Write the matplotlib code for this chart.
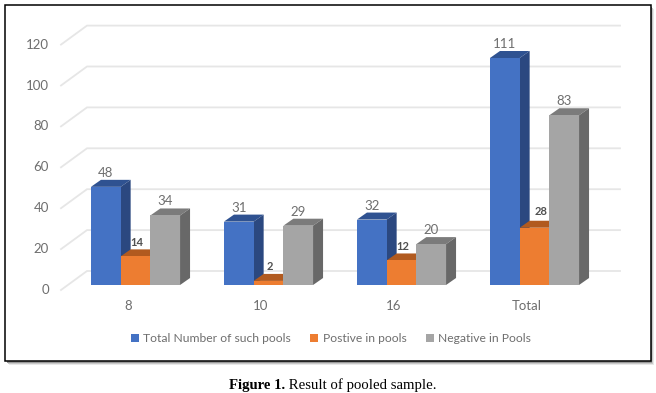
import numpy as np
import matplotlib
matplotlib.use("Agg")
import matplotlib.pyplot as plt
from matplotlib.patches import Polygon, Rectangle

# Data
categories = ["8", "10", "16", "Total"]
total_pools = [48, 31, 32, 111]
positive_pools = [14, 2, 12, 28]
negative_pools = [34, 29, 20, 83]
y_ticks = [0, 20, 40, 60, 80, 100, 120]

series_names = ["Total Number of such pools", "Postive in pools", "Negative in Pools"]
front_colors = ["#4472C4", "#ED7D31", "#A5A5A5"]
top_colors = ["#2F5291", "#B15A1F", "#7B7B7B"]
side_colors = ["#2B4880", "#A8551D", "#686868"]

W, H = 656, 393
px_x = 133.0    # pixels per category
px_y = 2.045    # pixels per unit of value
x0_px, y0_px = 135.5, 285.0

text_gray = "#6E6E6E"
num_font = ["Lato", "DejaVu Sans"]

fig = plt.figure(figsize=(W / 100, H / 100), dpi=100)
ax = fig.add_axes([0, 0, 1, 1])
ax.set_zorder(5)
ax.set_xlim(-x0_px / px_x, (W - x0_px) / px_x)
ax.set_ylim(-(H - y0_px) / px_y, y0_px / px_y)
ax.axis("off")


def ux(p):
    return p / px_x


def uy(p):
    return p / px_y


# Frame and its shadow
for i, c in enumerate(["#E8E8E8", "#C8C8C8", "#9A9A9A"]):
    off = 3 - i
    fig.add_artist(Rectangle((6 + off, H - 362 - off), 645, 356, transform=None,
                             facecolor=c, edgecolor="none", zorder=0))
fig.add_artist(Rectangle((4.5, H - 361), 646, 356, transform=None,
                         facecolor="white", edgecolor="black", linewidth=1.1, zorder=0.5))

# Gridlines: floor/wall corner then back wall
xs = np.arange(len(categories))
left_end = xs[0] + ux(61 - x0_px)
wall_start = xs[0] + ux(87 - x0_px)
wall_end = xs[0] + ux(620 - x0_px)
for v in y_ticks:
    ax.plot([left_end, wall_start, wall_end],
            [v - uy(5), v + uy(14), v + uy(14)],
            color="#E6E6E6", lw=1.3, zorder=1, solid_joinstyle="miter")
    ax.text(left_end - ux(12), v - uy(5), str(v), ha="right", va="center",
            fontsize=9.5, color=text_gray, family=num_font)

# Bars
width = 29.7 / px_x
dx = ux(10)
dy = uy(7)
series = [total_pools, positive_pools, negative_pools]
handles = []
for k, values in enumerate(series):
    lefts = xs + (k - 1.5) * width
    z = 3 + k
    bars = ax.bar(lefts, values, width, align="edge", color=front_colors[k],
                  zorder=z + 0.5, label=series_names[k])
    handles.append(bars)
    for j, (left, val) in enumerate(zip(lefts, values)):
        right = left + width
        ax.add_patch(Polygon([(left, val), (right, val), (right + dx, val + dy), (left + dx, val + dy)],
                             closed=True, facecolor=top_colors[k], edgecolor="none", zorder=z))
        ax.add_patch(Polygon([(right, 0), (right + dx, dy), (right + dx, val + dy), (right, val)],
                             closed=True, facecolor=side_colors[k], edgecolor="none", zorder=z))
        small = k == 1
        nudge_x = 0
        nudge_y = 14
        if small:
            nudge_x = 1
            # last orange label sits to the right, clear of the blue bar
            if j == len(values) - 1:
                nudge_x = 6.5
                nudge_y = 16
        ax.text(left + width / 2 + ux(nudge_x), val + uy(nudge_y), str(val),
                ha="center", va="center", fontsize=8 if small else 9.5,
                fontweight="bold" if small else "normal",
                color="#505050" if small else text_gray, family=num_font, zorder=10)

# Category labels
for x, name in zip(xs, categories):
    ax.text(x + ux(-7.5), -uy(20.5), name, ha="center", va="center",
            fontsize=9.5, color=text_gray, family=num_font)

# Legend
leg = ax.legend(handles=handles, loc="center", bbox_to_anchor=(331 / W, 1 - 338.5 / H),
                ncol=3, frameon=False, labelcolor=text_gray,
                handlelength=0.65, handleheight=0.65, handletextpad=0.35,
                columnspacing=1.6, borderpad=0, prop={"family": num_font, "size": 8.75})

# Caption
cap = ax.text(229 / W, 1 - 385 / H, "Figure 1.", transform=ax.transAxes, ha="left", va="center",
              fontsize=10.6, fontweight="bold", family="Liberation Serif", color="black")
ax.annotate(" Result of pooled sample.", xy=(1, 0), xycoords=cap, va="bottom", ha="left",
            fontsize=10.6, family="Liberation Serif", color="black")

fig.savefig("out.png", dpi=100)
